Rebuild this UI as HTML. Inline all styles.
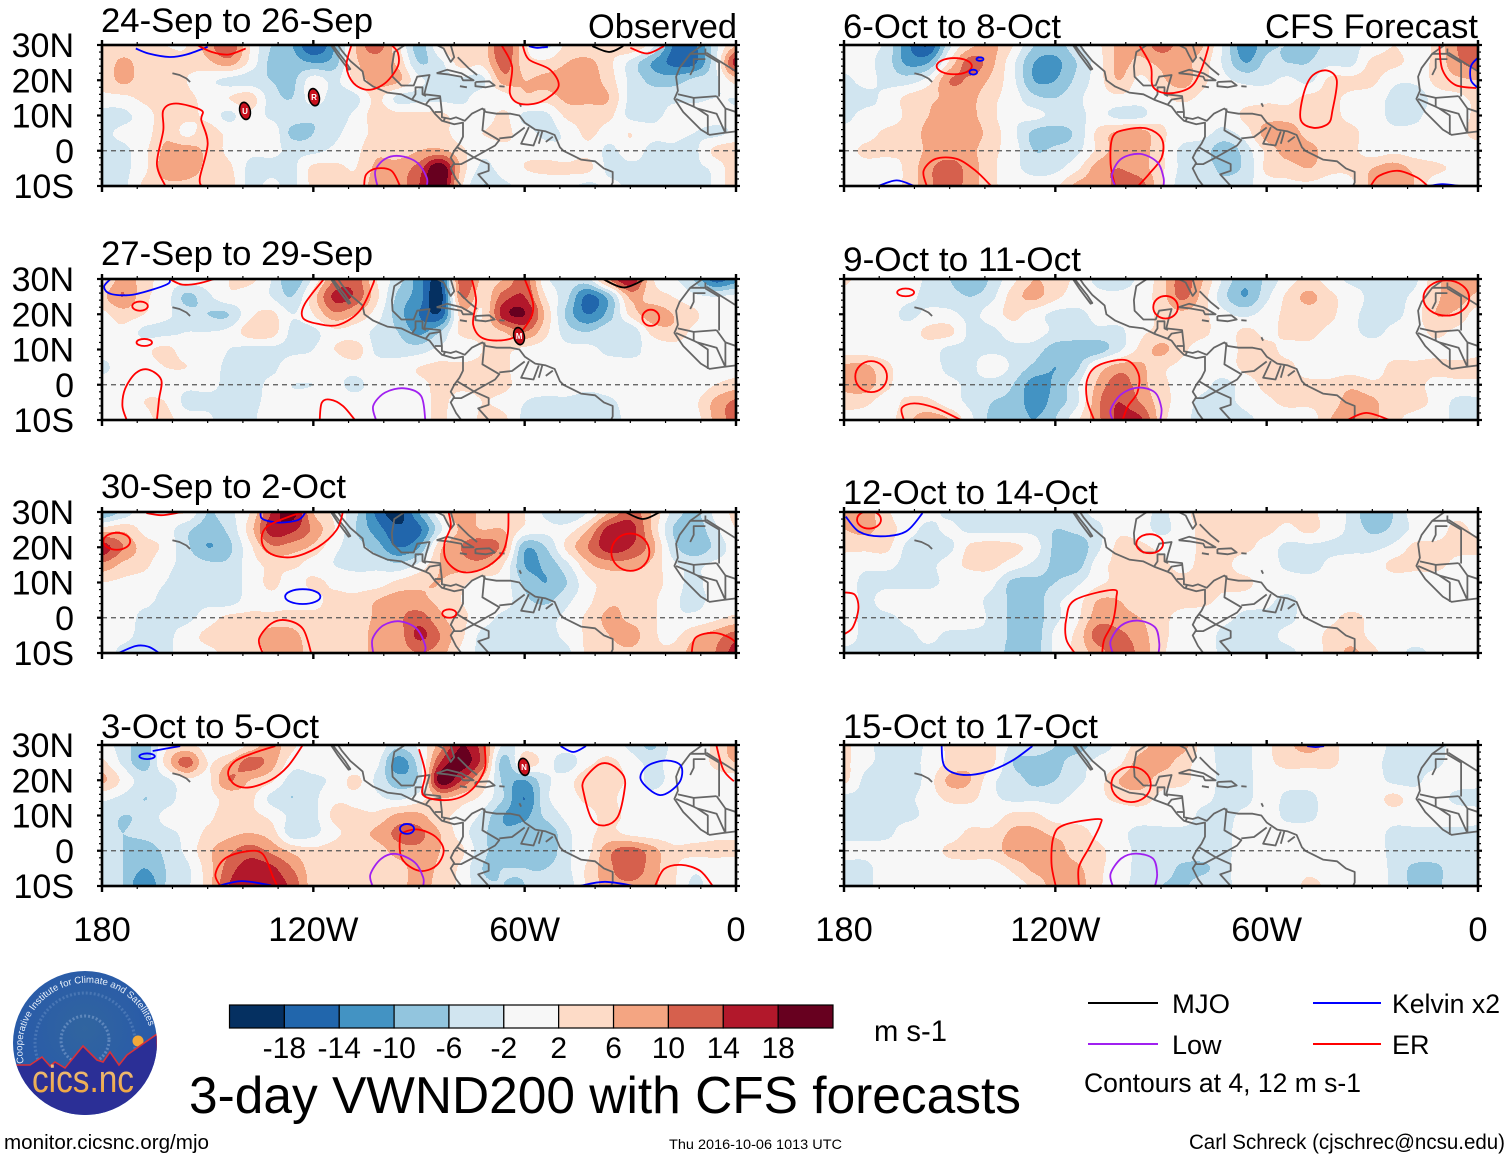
<!DOCTYPE html>
<html lang="en">
<head>
<meta charset="utf-8">
<title>3-day VWND200 with CFS forecasts</title>
<style>
html,body{margin:0;padding:0;background:#fff;}
svg{display:block;}
text{font-family:"Liberation Sans",Arial,sans-serif;fill:#000;}
</style>
</head>
<body>
<svg id="chart" xmlns="http://www.w3.org/2000/svg" width="1510" height="1159" viewBox="0 0 1510 1159">
  <g id="panels"></g>

  <text x="101" y="32" font-size="34" textLength="272" lengthAdjust="spacingAndGlyphs">24-Sep to 26-Sep</text>
  <text x="101" y="265" font-size="34" textLength="272" lengthAdjust="spacingAndGlyphs">27-Sep to 29-Sep</text>
  <text x="101" y="498" font-size="34" textLength="245" lengthAdjust="spacingAndGlyphs">30-Sep to 2-Oct</text>
  <text x="101" y="738" font-size="34" textLength="218" lengthAdjust="spacingAndGlyphs">3-Oct to 5-Oct</text>
  <text x="843" y="38" font-size="34" textLength="218" lengthAdjust="spacingAndGlyphs">6-Oct to 8-Oct</text>
  <text x="843" y="271" font-size="34" textLength="238" lengthAdjust="spacingAndGlyphs">9-Oct to 11-Oct</text>
  <text x="843" y="504" font-size="34" textLength="255" lengthAdjust="spacingAndGlyphs">12-Oct to 14-Oct</text>
  <text x="843" y="738" font-size="34" textLength="255" lengthAdjust="spacingAndGlyphs">15-Oct to 17-Oct</text>
  <text x="588" y="38" font-size="34" textLength="149" lengthAdjust="spacingAndGlyphs">Observed</text>
  <text x="1265" y="38" font-size="34" textLength="213" lengthAdjust="spacingAndGlyphs">CFS Forecast</text>

  <g id="colorbar"></g>
  <text x="874" y="1041" font-size="30" textLength="73" lengthAdjust="spacingAndGlyphs">m s-1</text>

  <text x="189" y="1113" font-size="52" textLength="832" lengthAdjust="spacingAndGlyphs">3-day VWND200 with CFS forecasts</text>

  <g>
    <line x1="1088" x2="1158" y1="1003" y2="1003" stroke="#000" stroke-width="2"/>
    <text x="1172" y="1013" font-size="27" textLength="58" lengthAdjust="spacingAndGlyphs">MJO</text>
    <line x1="1313" x2="1381" y1="1003" y2="1003" stroke="#0000ff" stroke-width="2"/>
    <text x="1392" y="1013" font-size="27" textLength="108" lengthAdjust="spacingAndGlyphs">Kelvin x2</text>
    <line x1="1088" x2="1158" y1="1044" y2="1044" stroke="#a020f0" stroke-width="2"/>
    <text x="1172" y="1054" font-size="27">Low</text>
    <line x1="1313" x2="1381" y1="1044" y2="1044" stroke="#ff0000" stroke-width="2"/>
    <text x="1392" y="1054" font-size="27">ER</text>
    <text x="1084" y="1092" font-size="27" textLength="277" lengthAdjust="spacingAndGlyphs">Contours at 4, 12 m s-1</text>
  </g>

  <text x="4" y="1149" font-size="20.5" textLength="205" lengthAdjust="spacingAndGlyphs">monitor.cicsnc.org/mjo</text>
  <text x="669" y="1149" font-size="14" textLength="173" lengthAdjust="spacingAndGlyphs">Thu 2016-10-06 1013 UTC</text>
  <text x="1189" y="1149" font-size="21" textLength="316" lengthAdjust="spacingAndGlyphs">Carl Schreck (cjschrec@ncsu.edu)</text>

  <g>
    <defs>
      <radialGradient id="logoSky" cx="0.5" cy="0.4" r="0.6">
        <stop offset="0" stop-color="#31659f"/>
        <stop offset="0.7" stop-color="#2a5ca8"/>
        <stop offset="1" stop-color="#2458a8"/>
      </radialGradient>
      <linearGradient id="logoWord" x1="0" y1="0" x2="0" y2="1">
        <stop offset="0" stop-color="#ecc48c"/>
        <stop offset="1" stop-color="#f0a030"/>
      </linearGradient>
      <clipPath id="logoClip"><circle cx="85" cy="1043" r="72"/></clipPath>
      <path id="logoArc" d="M 24 1063 A 64 64 0 1 1 151 1033"/>
    </defs>
    <circle cx="85" cy="1043" r="72" fill="url(#logoSky)"/>
    <g clip-path="url(#logoClip)">
      <circle cx="85" cy="1043" r="50" fill="none" stroke="#7fa2d4" stroke-width="3" stroke-dasharray="2 2" opacity="0.35"/>
      <circle cx="85" cy="1040" r="24" fill="none" stroke="#9ab6de" stroke-width="3" stroke-dasharray="2 2" opacity="0.45"/>
      <circle cx="138" cy="1041" r="5.5" fill="#f2a93a"/>
      <path d="M10 1065 L30 1065 L42 1057 L50 1066 L55 1062 L65 1068 L83 1046 L97 1060 L103 1062 L110 1052 L119 1065 L127 1055 L157 1034 L160 1120 L10 1120 Z" fill="#2b2f96" stroke="#d8323a" stroke-width="1.6"/>
    </g>
    <text font-size="9.6" style="fill:#e8f0fa"><textPath href="#logoArc">Cooperative Institute for Climate and Satellites</textPath></text>
    <text x="32" y="1092" font-size="38" textLength="102" lengthAdjust="spacingAndGlyphs" style="fill:url(#logoWord)">cics.nc</text>
  </g>
</svg>

<script>
// ---- Axis tick data ----
const lonMajorTicks = [180, 120, 60, 0];
const lonMajorLabels = ['180', '120W', '60W', '0'];
const lonMinorTicks = [170, 160, 150, 140, 130, 110, 100, 90, 80, 70, 50, 40, 30, 20, 10];
const latMajorTicks = [30, 20, 10, 0, -10];
const latMajorLabels = ['30N', '20N', '10N', '0', '10S'];
const latMinorTicks = [28, 26, 24, 22, 18, 16, 14, 12, 8, 6, 4, 2, -2, -4, -6, -8];

// ---- Shading scale ----
const levelTicks = [-18, -14, -10, -6, -2, 2, 6, 10, 14, 18];
const bandColors = ['#053061', '#2166ac', '#4393c3', '#92c5de', '#d1e5f0', '#f7f7f7', '#fddbc7', '#f4a582', '#d6604d', '#b2182b', '#67001f'];

// ---- Grid coordinates of the wind anomaly fields (deg W, deg N) ----
const gridLons = [180,174,168,162,156,150,144,138,132,126,120,114,108,102,96,90,84,78,72,66,60,54,48,42,36,30,24,18,12,6,0];
const gridLats = [30,25,20,15,10,5,0,-5,-10];

// ---- VWND200 anomalies, m/s, one row per latitude ----
const vwnd24Sep = [
[2,3,3,2,2,8,14,2,-6,-10,-18,-10,6,12,3,-8,2,6,4,14,3,-3,3,3,3,6,0,-14,-15,-4,6],
[3,7,4,4,3,5,8,1,-7,-8,-10,-8,5,8,5,-6,-3,4,3,12,4,3,6,7,3,-3,-10,-15,-15,-3,16],
[3,7,4,4,2,-1,-3,-4,-6,-7,0,-3,3,8,7,-1,-3,-3,-3,8,6,7,8,8,4,-3,-7,-8,-5,-3,4],
[1,1,3,4,3,1,2,4,-4,-6,0,-4,-3,3,-3,-3,-3,-3,0,0,5,4,7,7,6,-3,-4,-3,-3,-2,-2],
[-4,-3,0,4,3,1,-3,1,-3,-4,-5,-4,-1,4,3,3,3,0,-1,3,-3,-3,3,4,3,-3,-3,-1,0,0,-1],
[-3,-1,0,5,1,4,1,1,1,-7,-6,-3,0,3,3,4,4,0,2,3,0,-3,-1,3,0,2,-1,-1,-2,-3,-1],
[-3,-3,1,7,8,5,1,-1,-1,-3,-3,-1,1,5,4,6,7,3,-1,1,1,0,-1,1,-3,0,-3,-3,-3,3,5],
[-3,-3,1,8,8,5,3,-3,-3,-3,3,3,2,7,8,12,22,5,-3,0,2,3,3,3,-3,-3,-3,-5,-3,-1,5],
[-3,-3,3,5,5,4,4,-3,-1,-3,3,3,3,8,8,14,22,3,-6,-3,-1,-1,-1,-3,-1,-3,-4,-6,-5,-1,5]
];
const vwnd27Sep = [
[1,8,4,0,0,0,2,3,-2,-9,-1,10,12,2,-4,-12,-18,13,5,6,12,-1,-3,-3,10,18,3,-1,-6,-16,-12],
[5,10,3,0,-7,-3,1,0,-2,-6,4,15,13,3,-7,-12,-20,10,3,12,14,2,-5,-15,-8,7,4,2,-1,-2,-1],
[1,4,2,-1,-4,-6,-6,1,3,-2,2,9,6,0,-8,-14,-17,4,2,16,18,5,-7,-14,-8,3,8,6,3,-1,0],
[0,1,-3,-3,-2,-2,-1,4,4,-3,-3,1,0,-3,-6,-11,-6,3,3,6,10,3,-4,-6,-3,-5,3,5,1,0,-1],
[0,0,1,3,0,0,-2,-3,-3,-3,-2,2,4,-3,-4,-4,-1,-1,2,3,1,0,-1,-1,-3,-3,-1,0,0,0,0],
[-3,0,0,2,2,0,-3,-4,-3,0,0,-1,0,0,0,2,3,3,3,3,-1,-1,-1,-1,0,-1,-1,0,0,-1,0],
[0,0,1,0,-1,-1,-3,-4,-1,-2,-2,-1,-3,0,0,1,3,3,3,3,0,0,0,-1,0,0,0,0,-1,2,4],
[0,0,2,2,-3,-3,-3,-3,-1,-1,0,0,0,0,0,0,3,0,2,1,-2,-3,-3,-4,-3,0,0,0,1,7,11],
[0,0,1,3,0,-1,-5,-3,0,-1,0,1,0,0,0,0,3,-1,3,3,-3,-3,-4,-6,-5,0,-1,0,0,7,12]
];
const vwnd30Sep = [
[-10,-5,1,1,2,-6,-3,2,14,20,6,1,-5,-15,-20,-10,1,10,4,3,2,-3,-6,-2,6,12,6,-3,-7,-1,3],
[4,5,1,0,-5,-8,-5,4,16,15,9,2,-6,-12,-17,-15,-3,7,6,6,1,-1,0,6,16,16,6,-6,-9,-3,2],
[16,10,4,1,-5,-10,-7,1,9,8,5,-1,-4,-8,-14,-10,5,10,13,8,-9,-6,3,10,16,14,8,-4,-9,-5,0],
[9,5,3,-1,-3,-5,-5,0,3,3,0,-2,-3,-3,-5,-1,6,8,8,2,-10,-9,-3,5,8,8,5,-1,-3,-1,0],
[2,1,0,-2,-3,-3,-3,-1,3,0,3,1,0,0,3,5,6,3,0,0,-7,-10,-6,1,3,3,4,0,-3,0,0],
[0,-1,-1,-3,-3,-3,-4,0,1,0,1,3,3,6,8,7,5,2,1,0,-5,-7,-3,1,5,5,3,-1,-3,-1,0],
[1,0,-3,-3,-3,0,3,3,3,4,3,3,3,7,9,12,7,3,0,-3,-3,-3,-1,3,7,5,3,-1,-1,1,3],
[0,-1,-3,-3,0,3,4,4,8,7,4,3,3,8,8,15,10,3,-3,-3,-3,-3,-1,3,6,8,3,1,5,8,12],
[0,-3,-3,-3,0,1,3,4,7,8,4,3,3,8,8,10,8,1,-3,-3,-3,-3,-3,3,4,5,3,3,8,10,16]
];
const vwnd3Oct = [
[0,-4,-8,1,3,0,-2,3,8,3,-1,0,1,1,-5,-1,8,18,12,-3,0,-1,0,0,0,-3,-7,-1,-1,3,8],
[3,-3,-8,3,12,2,6,12,8,0,0,0,-1,-1,-12,-4,14,20,12,-8,4,0,-4,1,3,0,-3,-1,-1,3,6],
[7,1,-4,-3,1,1,10,6,3,-4,-3,-1,3,-3,-8,-5,20,14,5,-7,-10,-3,0,5,4,1,-3,-1,0,0,0],
[-1,-3,-6,-4,0,1,3,3,-3,-6,-3,1,1,-1,-3,0,6,4,1,-6,-14,-3,0,3,3,0,-1,0,0,0,0],
[-4,-6,-5,-1,0,1,4,3,1,-3,-3,3,3,3,7,7,3,1,-3,-10,-11,-5,-1,1,3,1,0,0,0,0,0],
[-5,-6,-5,-3,-1,3,5,6,4,-4,-3,1,4,7,11,11,6,0,-5,-9,-8,-9,-3,1,3,1,0,0,0,1,1],
[-4,-6,-8,-5,-1,5,9,12,9,5,3,4,4,4,8,9,6,3,-5,-7,-7,-9,-3,1,9,12,8,3,3,3,3],
[-3,-6,-10,-6,-3,4,12,16,15,10,4,4,3,3,4,8,5,1,-6,-6,-6,-6,-3,3,9,13,8,3,-1,0,-1],
[-3,-6,-14,-6,-3,4,14,17,16,13,4,3,3,3,4,8,4,1,-5,-6,-6,-5,-4,3,8,9,7,3,-3,0,-1]
];
const vwnd6Oct = [
[2,-1,-3,-13,-18,-3,5,7,2,-6,-8,-3,1,7,7,12,8,6,-3,-13,-7,-6,-7,-5,-3,-1,2,0,3,10,14],
[0,-1,-4,-11,-10,3,12,7,-1,-10,-11,-6,0,7,5,7,7,4,-3,-10,-5,-6,-6,-3,-3,3,3,1,3,9,12],
[-3,-1,-3,-4,0,10,9,5,-1,-10,-10,-5,0,6,1,5,8,3,-1,-3,-3,-1,-3,3,3,3,-1,-1,3,5,6],
[-4,-3,-1,3,5,7,7,3,0,-5,-6,-3,0,1,0,1,3,1,0,0,1,1,3,3,1,0,-3,-5,0,1,3],
[-3,-1,-1,3,6,8,7,3,-1,-1,-3,-3,-1,-3,-3,1,0,0,-1,3,4,4,3,3,1,0,-3,-3,0,0,3],
[-1,0,3,4,7,8,8,4,-1,-7,-8,-5,3,7,8,3,0,-1,-3,0,8,9,4,3,3,0,-1,-1,-1,0,4],
[0,3,3,3,7,8,7,3,0,-6,-5,-3,3,8,8,3,-3,-4,-9,-4,3,8,8,3,3,0,1,0,-1,-1,-1],
[-1,0,0,3,9,12,8,3,-1,-3,-3,1,8,10,8,3,-3,-4,-7,-5,3,4,6,3,3,6,8,5,3,1,-1],
[-1,0,0,3,9,12,8,3,0,-1,1,7,8,11,12,3,-4,-4,-5,-3,0,1,1,0,1,7,8,6,-1,-1,-1]
];
const vwnd9Oct = [
[3,0,0,0,-3,-6,-10,-5,1,6,4,1,-3,-4,-1,4,12,6,-3,-9,-5,0,3,0,-3,-3,-3,-3,5,7,8],
[0,0,1,-1,-3,-4,-6,-3,4,7,3,0,-1,-1,0,4,11,4,-5,-10,-3,3,7,3,0,-3,-3,-1,5,8,5],
[0,0,0,-3,-1,-1,-3,0,3,0,-3,-3,-1,0,0,3,5,3,-1,-3,0,3,4,3,-1,-3,-3,0,6,5,0],
[-1,0,0,0,3,3,-3,-3,0,0,-3,-4,-3,-3,1,3,4,3,0,3,1,3,3,1,-1,-3,-1,0,3,1,0],
[0,0,0,0,0,-3,-3,-3,-3,-4,-8,-8,-8,-3,3,7,3,0,0,3,3,1,1,0,0,0,0,0,1,0,1],
[7,7,3,0,0,-3,-3,1,-3,-7,-10,-7,3,8,7,3,1,0,0,3,3,3,0,0,0,0,3,3,3,3,3],
[7,8,3,0,0,-1,-3,-4,-6,-12,-9,-3,7,12,8,3,1,-1,-3,0,3,3,3,3,5,3,3,3,1,1,1],
[4,3,0,3,3,0,-3,-6,-7,-12,-8,-3,9,14,10,4,0,-3,-3,-1,1,3,3,4,8,7,3,3,1,-3,-3],
[0,0,0,5,8,6,-1,-7,-7,-10,-6,1,9,15,15,4,-1,-3,-5,-3,-1,-1,-1,6,8,7,3,1,0,-3,-3]
];
const vwnd12Oct = [
[7,8,3,-1,-1,-3,-5,-3,-3,-3,-3,-3,-1,-1,0,-3,1,3,3,3,3,3,3,0,-3,-10,-6,0,0,1,0],
[6,7,4,0,-3,-1,-3,-3,-3,-3,-6,-5,-3,1,0,-3,0,3,3,3,3,1,3,0,-3,-7,-5,-1,0,3,1],
[3,3,3,-3,-5,-3,3,4,3,0,-7,-9,-3,3,3,1,0,3,3,3,0,-3,-3,-3,-3,-3,-1,3,3,3,3],
[0,-1,-1,-3,-3,0,3,3,0,-3,-7,-8,0,3,4,3,1,3,3,0,0,-3,-4,-1,0,0,3,3,3,1,0],
[0,-3,-3,-3,-3,-1,-1,-1,-7,-7,-6,-3,1,3,3,3,3,3,3,3,0,0,0,0,0,0,0,0,0,0,-1],
[1,-3,0,0,0,0,-1,-3,-7,-8,-3,0,6,6,3,3,3,3,1,0,-1,-3,0,0,0,0,0,0,0,0,0],
[0,-3,-3,-1,0,1,0,-3,-7,-8,-3,1,8,8,6,3,1,0,-1,-3,-3,-3,0,1,3,1,0,-1,0,0,0],
[0,-3,-3,-3,-1,-3,-3,-3,-7,-8,-1,3,12,11,8,3,1,0,-3,-3,-3,-1,0,3,4,1,0,0,0,0,0],
[-3,-3,-3,-3,-3,-3,-3,-3,-8,-8,-1,3,8,12,9,3,0,0,-3,-3,-3,-3,0,3,7,3,0,-3,-1,0,0]
];
const vwnd15Oct = [
[3,-1,-3,-4,-1,3,5,3,-3,-4,-6,-8,-4,-1,4,8,8,0,-3,-3,1,5,8,4,0,0,-3,-4,-3,-1,-1],
[3,-1,-3,-3,-1,3,5,3,-6,-7,-7,-4,-1,1,8,8,4,0,-3,-3,1,3,3,3,0,-1,-3,-3,-3,0,-1],
[3,-3,-5,-5,0,7,6,-1,-4,-7,-6,-3,0,6,8,4,3,0,-3,-3,0,0,0,0,0,0,-3,-3,0,0,-1],
[-3,-3,-4,-3,0,3,3,-1,-3,-3,-3,-1,1,3,4,1,0,-1,-3,-3,0,-3,-3,0,0,0,3,0,0,-3,-3],
[-3,-3,-3,-3,-1,0,0,0,3,3,0,0,0,0,0,0,0,-3,-3,-1,0,-3,-3,0,0,0,0,0,0,0,-1],
[-3,-3,-3,0,0,0,3,3,7,7,5,4,1,-1,-3,-3,-3,-3,-3,0,0,0,0,0,0,0,-3,-3,-3,-3,-3],
[-1,-1,0,0,0,3,4,4,8,8,8,4,3,0,-3,-3,-3,-3,-3,0,0,0,0,0,0,0,-3,-3,-3,-3,-3],
[-3,-3,0,0,0,0,0,0,3,7,8,7,3,0,-3,-3,-7,-7,-3,0,0,0,1,0,0,0,-3,-7,-7,-3,-3],
[-3,-3,0,0,0,0,0,0,0,3,8,8,3,-1,-3,-6,-7,-3,-3,0,0,0,3,1,0,0,-3,-7,-7,-3,-3]
];

// ---- Wave-filtered contours: flat lists of lonW, lat pairs (c = closed) ----
const lines24Sep = [
{k:'kelvin',p:[170.4,29,166.8,27.6,160.8,26.6,156,27.3,150,29.5]},
{k:'er',p:[153,30,148.8,28,144,27.3,139.2,29]},
{k:'er',p:[162,-10,164.4,-3.8,162.6,5.8,162.6,11.5,159,13.4,151.8,11.5,151.8,8.7,150,2,152.2,-7.6,151.8,-10]},
{k:'er',p:[109.2,30,110.6,24,108.6,19.2,104.4,17.3,99.6,19.2,96,24,96,27.8,97.8,30]},
{k:'er',p:[66.6,30,63.6,24,64.2,16.3,61.2,13.3,55.2,14,50.4,18.2,52.8,23,58.8,25.9,60.6,30]},
{k:'er',p:[30,29.2,25.2,27.6,20.4,29.7]},
{k:'mjo',p:[40.8,29.7,36,28,32,29.7]},
{k:'low',p:[101.8,-10,102.4,-5.7,99.6,-2.3,95.4,-1.5,90.6,-3.3,87.8,-7.6,87.8,-10]},
{k:'er',p:[105.6,-10,105,-6.7,102,-5,97.8,-5.7,95.4,-10]},
{k:'kelvin',p:[58.8,29.7,56.4,29.2,53.4,29.5]}
];
const lines27Sep = [
{k:'kelvin',p:[177.6,30,179.4,27.8,177.6,25.8,171.6,25.5,164.4,27.4,161,28.8,160.8,30]},
{k:'er',p:[160.8,30,157.2,28.4,152.4,28.8,148.2,30]},
{k:'er',p:[173,-10,174.2,-6,173.4,-1.1,170.4,3.3,166.8,4.3,163.2,1.4,163.8,-4,164.4,-10]},
{k:'er',p:[117,30,122.4,23,123,19,118.8,17.3,112.8,17,106.8,21,103,28.7,103,30]},
{k:'er',p:[75,30,73.8,24,74.6,17,71.4,13,63.6,13.2,58.8,18,57.6,22.9,60,30]},
{k:'mjo',p:[37.8,30,31.8,27.6,25.8,30]},
{k:'low',p:[102.2,-10,103,-6,99.6,-2.2,94.2,-1,89.4,-3.2,88.2,-10]},
{k:'er',p:[118.2,-10,117.6,-5.1,115.2,-4.2,111.6,-6,108.2,-10]}
];
const lines30Sep = [
{k:'er',p:[167.4,29.7,163.2,29.1,157.8,29.9]},
{k:'kelvin',p:[135,30,134.4,28,129.6,27,124.2,27.8,122.2,30]},
{k:'er',p:[111.6,30,113.4,24.9,118.8,20,126,17.2,132,18.1,134.6,21.5,133.2,25.8,126,29,122.4,30]},
{k:'er',p:[81.6,30,81,25.8,82.8,21,82.2,16.2,78,13,72,13.8,66.6,18,64.8,23.9,64.6,30]},
{k:'mjo',p:[31.4,30,26.4,28,21.6,30]},
{k:'low',p:[103,-10,103.2,-6,100.2,-2.2,95.4,-1,90.6,-3.2,88.2,-8,88.6,-10]},
{k:'er',p:[134.4,-10,135.4,-6,132,-1.7,127.8,-0.7,123,-3.1,120.6,-10]},
{k:'kelvin',p:[175.2,-10,170.4,-8,166.8,-8.2,163.8,-10]},
{k:'er',p:[12.6,-10,11.4,-5.6,6,-4.3,0.6,-6.5,0,-10]}
];
const lines3Oct = [
{k:'kelvin',p:[165.6,28.3,157.8,29.7]},
{k:'er',p:[123,30,127.2,24,132,20.1,138,18,142.2,18.7,144.2,22,142.2,25.4,136.8,27.8,130.8,29.7]},
{k:'er',p:[90,28.8,88.2,22,88.8,15.8,81.6,14.4,75.6,16.8,71.4,23,71.4,29.7]},
{k:'er',c:1,p:[95.4,3.9,94.8,-2.3,90,-5.7,85.2,-4.3,83,0,85.2,3.9,90,6,94.2,5.3]},
{k:'low',p:[103.2,-10,103.8,-6.7,100.8,-2.3,96.6,-0.9,91.2,-3.3,88.8,-7.6,88.8,-10]},
{k:'er',p:[146.4,-10,147.8,-6.7,145.2,-2.3,139.2,-0.2,134.4,-0.9,131.4,-7.6,130.2,-10]},
{k:'kelvin',p:[147,-10,140.4,-8.6,132,-9.8]},
{k:'kelvin',p:[49.8,29.7,46.2,28,42.6,29.7]},
{k:'er',c:1,p:[39,24.4,43.2,20,43.2,16.3,40.8,8.7,37.2,7.2,33.6,9.6,31.8,16.3,31.8,21,35.4,24.4]},
{k:'kelvin',c:1,p:[27,20.1,25.2,24,19.8,25.6,15.6,24,16.2,19.2,21.6,15.8]},
{k:'kelvin',p:[44.4,-10,37.2,-8.8,28.8,-10]},
{k:'er',p:[23,-10,20.4,-5.2,15.6,-4,10.2,-5.7,6.6,-10]},
{k:'er',p:[5.6,30,3.6,23,0.6,19.7]}
];
const lines6Oct = [
{k:'kelvin',p:[170.3,-10,165,-8.4,160.1,-10]},
{k:'er',p:[156.5,-10,157.4,-5.7,154,-2.3,148,-2.3,142.6,-5.7,138.2,-10]},
{k:'er',p:[103,-10,104.3,-3.8,103.7,3.9,100,6,94,6.3,89.8,3.4,89.8,-1.9,93.5,-6.7,96.5,-10]},
{k:'low',p:[103,-10,103.9,-6.7,101.3,-2.3,95.9,-0.9,91,-3.3,89.3,-7.6,89.3,-10]},
{k:'er',p:[96.2,30,92.9,24,92.3,18.2,88,16.3,82,17.8,79,22,76.7,28.8,76.7,30]},
{k:'er',c:1,p:[49.7,15.4,47.3,21,43.1,22.8,40.1,20,41.3,11.5,42.5,7.7,46.7,6.5,50.3,8.7]},
{k:'er',p:[30.5,-10,28.1,-7.1,22.7,-5.7,17.3,-7.6,14.3,-10]},
{k:'kelvin',p:[13.7,-10,10.1,-9.5,5.3,-10]},
{k:'er',p:[11,30,10.1,23,6.5,18.7,0.5,17.8]},
{k:'kelvin',p:[0,26.4,2,24,2,20,0,17.8]}
];
const lines9Oct = [
{k:'er',p:[163,-10,163.6,-6.6,160,-5.3,154,-6.6,146.8,-10]},
{k:'er',p:[109,-10,111,-4.2,110.9,1.6,107.8,5.5,100,7,96.4,3.1,96.7,-2.2,99.4,-6.1,100.9,-10]},
{k:'low',p:[103.7,-10,104.3,-7.1,101.3,-2.7,96.5,-0.8,91.7,-2.2,89.9,-6.6,90.2,-10]},
{k:'er',p:[37.1,-10,31.7,-8,25.1,-10]}
];
const lines12Oct = [
{k:'kelvin',p:[179.5,28.7,175.7,24.4,169.7,23.1,162.5,24.4,157.7,29.7]},
{k:'er',p:[180,7.2,176.9,6.5,175.9,2.6,177.5,-2.7,180,-4.7]},
{k:'er',p:[114.5,-10,116.9,-6.1,116.9,-0.3,114.5,5,103.7,7.9,102.7,5.5,103.7,-1.3,106.1,-6.1,106.7,-10]},
{k:'low',p:[103.7,-10,104.3,-6.6,101.3,-2.2,96.5,-0.8,91.7,-2.7,90.5,-7.1,90.7,-10]}
];
const lines15Oct = [
{k:'kelvin',p:[152.3,30,151.5,24,146.9,21.6,139.7,22.3,132.5,25.4,126.5,29.7]},
{k:'er',p:[119.9,-10,121.1,-3.6,120.5,4,117.5,7.3,107.9,9,107.3,7.3,110.3,1.1,113.3,-4.6,113.3,-10]},
{k:'low',p:[103.7,-10,104.3,-6.5,101.3,-2.2,97.1,-0.8,92.3,-2.2,91.1,-6.5,91.7,-10]},
{k:'kelvin',p:[48.5,29.7,46.1,29.4,43.7,29.7]}
];

// ---- Small closed contours: kind, lonW, lat, lon radius, lat radius ----
const ovals24Sep = [];
const ovals27Sep = [['er',169.2,22.3,2.2,1.3],['er',168,12,2.2,1],['er',24.2,19,2.4,2.3]];
const ovals30Sep = [['er',175.8,21.7,3.8,2.4],['er',30,18.6,5.4,5.3],['kelvin',123,6,5,2.1],['er',81.4,1.2,2,1.2]];
const ovals3Oct = [['kelvin',167.2,26.8,2.2,0.8],['kelvin',93.4,6.2,2,1.4]];
const ovals6Oct = [['er',148.7,24,5,2.3],['kelvin',141.4,26,1,0.5],['kelvin',143.3,22.3,1.1,0.7]];
const ovals9Oct = [['er',162.5,26.2,2.4,1.1],['er',88.7,22,3.5,3.2],['er',9,24.6,6.5,5],['er',172.3,2.3,4.5,4.4]];
const ovals12Oct = [['er',172.9,27.8,3.4,2.5],['er',93.2,21,3.8,2.7]];
const ovals15Oct = [['er',98.5,18.8,5.6,5]];

// ---- Tropical cyclone markers: letter, lonW, lat ----
const storms24Sep = [['U',139.4,11.3],['R',119.8,15.2]];
const storms27Sep = [['M',61.6,13.8]];
const storms3Oct = [['N',60.2,23.8]];

// ---- Coastlines and borders: flat lists of lonW, lat pairs ----
const coastLines = [
[115,30,113,27,110,23,109.5,23.2,111,25.5,113,28,114.5,30],
[113,30,112,28.5,109.5,25.5,106,22.5,105.5,20,103,18.2,99,16.5,95,16,92,14.5,88,13,87,12.5,85.5,10.5,83.5,8.5,80,7.5,77.5,8,77.5,4,78.5,2,80,0,81,-2,80,-3.5,81,-5,79.5,-8,78,-10],
[94,30,97,28,97.7,24,97.5,21,95,18.5,91.5,18.5,90.5,21,87,21.5,88,18,88.5,16,84,15.5,83.5,11,83.5,9.5,81,9,79.5,9.5,77,8.5,75,10.5,72,12,71,11,68,10.5,64,10.5,61.5,10,60,8,57,6,54,5.5,51.5,4.5,50,1,49,0,47,-1,44,-2.5,40,-3,37.5,-5,35,-6,35,-9,35.5,-10],
[85,30,83,29,82,27,81,25.2,80,26.5,81,30],
[85,22,82,23,78,22,74.5,20,77.5,20,78,21,82,21.7,85,22],
[74,19.5,70,19.7,68.5,18.5,71,18,74,18.3,74,19.5],
[78.4,18.3,76.4,18],
[67.2,18.3,65.7,18.2],
[79,26.5,77.5,25,76,23.5,73.5,21.5],
[160,22,158,21.5,156,20.5,155,19.5],
[61.5,13.5,61,12.5],
[71.4,12,72,5.8,67.2,3,68.4,1.5,74.4,-1.9,70.2,-3.8,70.2,-5.7,73.2,-6.7,70.2,-10],
[67.2,3.5,63.6,3.9,60,6.6],
[58.8,6.7,61,2,57.5,1.5,56,5.5],
[56,2,55,5.5],
[54,2.5,52,4],
[79.2,1,74.4,-1.9,78,-3.8,80.4,-3.8],
[92,14.5,91,16,91,18,89,18,89,16,88,15.5],
[88,13.2,87,14.5,84,15],
[85.5,11,83.5,11],
[83,8.5,82.5,9.5],
[9.5,30,13,27.5,16,23.5,17,21,16.5,17,17.5,14.7,15,11,13,9,10,6,7.5,4.5,4,5,0,5.5],
[13,27.5,8.7,27.5,8.7,29],
[8.7,27.3,4.8,25,4.8,15.4],
[13,21.5,12,23.5,12,26,8.7,26],
[8.4,27.8,0,22.5],
[16.5,16,12,15,5.5,15.5],
[17,14.7,12,12.5,11,12,8,10,8,7.5,8,4.5],
[12,15,12,12.5],
[11,12,5.5,10.5,3,5],
[5.5,15.5,3,12,3,5],
[3,12,0,11,0,5.5]
];

// ---- Panel list ----
const panelData = [
{name:'24-sep', col:0, row:0, field:vwnd24Sep, lines:lines24Sep, ovals:ovals24Sep, storms:storms24Sep},
{name:'27-sep', col:0, row:1, field:vwnd27Sep, lines:lines27Sep, ovals:ovals27Sep, storms:storms27Sep},
{name:'30-sep', col:0, row:2, field:vwnd30Sep, lines:lines30Sep, ovals:ovals30Sep, storms:[]},
{name:'3-oct', col:0, row:3, field:vwnd3Oct, lines:lines3Oct, ovals:ovals3Oct, storms:storms3Oct},
{name:'6-oct', col:1, row:0, field:vwnd6Oct, lines:lines6Oct, ovals:ovals6Oct, storms:[]},
{name:'9-oct', col:1, row:1, field:vwnd9Oct, lines:lines9Oct, ovals:ovals9Oct, storms:[]},
{name:'12-oct', col:1, row:2, field:vwnd12Oct, lines:lines12Oct, ovals:ovals12Oct, storms:[]},
{name:'15-oct', col:1, row:3, field:vwnd15Oct, lines:lines15Oct, ovals:ovals15Oct, storms:[]}
];

const NS = 'http://www.w3.org/2000/svg';
const colLeft = [102, 844];
const rowTop = [45, 279, 512, 745];
const panelW = 634;
const panelH = 141;
const lineColors = {er:'#ff0000', kelvin:'#0000ff', low:'#a020f0', mjo:'#000000'};

function mk(tag, parent) {
  const el = document.createElementNS(NS, tag);
  parent.appendChild(el);
  return el;
}
function set(el, attrs) {
  for (const a in attrs) el.setAttribute(a, attrs[a]);
  return el;
}
function bandIndex(v) {
  let i = 0;
  while (i < levelTicks.length && v >= levelTicks[i]) i++;
  return i;
}
function catmull(a, b, c, d, t) {
  return 0.5 * (2*b + (c-a)*t + (2*a-5*b+4*c-d)*t*t + (3*b-a-3*c+d)*t*t*t);
}
function sample(field, fx, fy) {
  const nx = field[0].length, ny = field.length;
  const ix = Math.min(Math.floor(fx), nx-2), iy = Math.min(Math.floor(fy), ny-2);
  const tx = fx-ix, ty = fy-iy;
  const vals = [];
  for (let r = iy-1; r <= iy+2; r++) {
    const row = field[Math.max(0, Math.min(ny-1, r))];
    vals.push(catmull(
      row[Math.max(0, ix-1)], row[ix], row[ix+1], row[Math.min(nx-1, ix+2)], tx));
  }
  return catmull(vals[0], vals[1], vals[2], vals[3], ty);
}
function smoothPath(pts, closed) {
  const n = pts.length;
  const get = i => closed ? pts[(i+n)%n] : pts[Math.max(0, Math.min(n-1, i))];
  let d = 'M' + pts[0][0].toFixed(1) + ' ' + pts[0][1].toFixed(1);
  const segs = closed ? n : n-1;
  for (let i = 0; i < segs; i++) {
    const p0 = get(i-1), p1 = get(i), p2 = get(i+1), p3 = get(i+2);
    d += 'C' + (p1[0]+(p2[0]-p0[0])/6).toFixed(1) + ' ' + (p1[1]+(p2[1]-p0[1])/6).toFixed(1) + ' ' +
         (p2[0]-(p3[0]-p1[0])/6).toFixed(1) + ' ' + (p2[1]-(p3[1]-p1[1])/6).toFixed(1) + ' ' +
         p2[0].toFixed(1) + ' ' + p2[1].toFixed(1);
  }
  return d + (closed ? 'Z' : '');
}

const panelsRoot = document.getElementById('panels');
const defsRoot = mk('defs', panelsRoot);

panelData.forEach(function (panel) {
  const left = colLeft[panel.col], top = rowTop[panel.row];
  const xOf = lon => left + (180 - lon) / 180 * panelW;
  const yOf = lat => top + (30 - lat) / 40 * panelH;

  const g = mk('g', panelsRoot);
  
  

  const clip = mk('clipPath', defsRoot);
  clip.setAttribute('id', 'clip-' + panel.name);
  set(mk('rect', clip), {x:left, y:top, width:panelW, height:panelH});

  // Shaded field, one path per colour band
  const segs = bandColors.map(() => []);
  const lonStep = gridLons[0] - gridLons[1];
  const latStep = gridLats[0] - gridLats[1];
  for (let py = 0; py < panelH; py++) {
    const lat = 30 - (py + 0.5) / panelH * 40;
    const fy = (gridLats[0] - lat) / latStep;
    let runStart = 0, runBand = -1;
    for (let px = 0; px <= panelW; px++) {
      let b = -2;
      if (px < panelW) {
        const lon = 180 - (px + 0.5) / panelW * 180;
        const fx = (gridLons[0] - lon) / lonStep;
        b = bandIndex(sample(panel.field, fx, fy));
      }
      if (b !== runBand) {
        if (runBand >= 0) {
          segs[runBand].push('M' + (left+runStart) + ' ' + (top+py) + 'h' + (px-runStart) + 'v1h-' + (px-runStart) + 'z');
        }
        runStart = px;
        runBand = b;
      }
    }
  }
  segs.forEach(function (list, i) {
    if (!list.length) return;
    const band = mk('path', g);
    
    
    set(band, {d:list.join(''), fill:bandColors[i], 'shape-rendering':'crispEdges'});
  });

  const inner = mk('g', g);
  
  
  inner.setAttribute('clip-path', 'url(#clip-' + panel.name + ')');

  // Coastlines
  coastLines.forEach(function (flat) {
    const pts = [];
    for (let i = 0; i < flat.length; i += 2) pts.push(xOf(flat[i]).toFixed(1) + ',' + yOf(flat[i+1]).toFixed(1));
    const coast = mk('polyline', inner);
    
    
    set(coast, {points:pts.join(' '), fill:'none', stroke:'#666666', 'stroke-width':1.8, 'stroke-linejoin':'round'});
  });

  // Equator
  const eq = mk('line', inner);
  
  
  set(eq, {x1:left, x2:left+panelW, y1:yOf(0), y2:yOf(0), stroke:'#555555', 'stroke-width':1.3, 'stroke-dasharray':'5 4'});

  // Contours
  panel.lines.forEach(function (line) {
    const pts = [];
    for (let i = 0; i < line.p.length; i += 2) pts.push([xOf(line.p[i]), yOf(line.p[i+1])]);
    const path = mk('path', inner);
    
    
    set(path, {d:smoothPath(pts, !!line.c), fill:'none', stroke:lineColors[line.k], 'stroke-width':1.8});
  });
  panel.ovals.forEach(function (o) {
    const e = mk('ellipse', inner);
    
    
    set(e, {cx:xOf(o[1]), cy:yOf(o[2]), rx:o[3]/180*panelW, ry:o[4]/40*panelH, fill:'none', stroke:lineColors[o[0]], 'stroke-width':1.8});
  });

  // Storm markers
  panel.storms.forEach(function (s) {
    const sg = mk('g', inner);
    
    
    const cx = xOf(s[1]), cy = yOf(s[2]);
    const outer = mk('ellipse', sg);
    
    
    set(outer, {cx:cx, cy:cy, rx:6, ry:9.5, fill:'#000', transform:'rotate(-12 ' + cx + ' ' + cy + ')'});
    const innerDot = mk('ellipse', sg);
    
    
    set(innerDot, {cx:cx, cy:cy, rx:4.6, ry:7.8, fill:'#c8101c', transform:'rotate(-12 ' + cx + ' ' + cy + ')'});
    const letter = mk('text', sg);
    
    
    set(letter, {x:cx, y:cy+3, 'text-anchor':'middle', 'font-size':8, 'font-weight':'bold', style:'fill:#fff'});
    letter.textContent = s[0];
  });

  // Frame and ticks
  const tg = mk('g', g);
  
  
  function tick(x1, y1, x2, y2, w) {
    const t = mk('line', tg);
    
    
    set(t, {x1:x1, y1:y1, x2:x2, y2:y2, stroke:'#000', 'stroke-width':w});
  }
  lonMajorTicks.forEach(function (lon) {
    tick(xOf(lon), top-5, xOf(lon), top, 2.4);
    tick(xOf(lon), top+panelH, xOf(lon), top+panelH+6, 2.4);
  });
  lonMinorTicks.forEach(function (lon) {
    tick(xOf(lon), top-3, xOf(lon), top, 1.2);
    tick(xOf(lon), top+panelH, xOf(lon), top+panelH+3, 1.2);
  });
  latMajorTicks.forEach(function (lat) {
    tick(left-5, yOf(lat), left, yOf(lat), 2.2);
    tick(left+panelW, yOf(lat), left+panelW+4, yOf(lat), 2.2);
  });
  latMinorTicks.forEach(function (lat) {
    tick(left-3, yOf(lat), left, yOf(lat), 1.2);
    tick(left+panelW, yOf(lat), left+panelW+3, yOf(lat), 1.2);
  });
  const frame = mk('rect', tg);
  
  
  set(frame, {x:left, y:top, width:panelW, height:panelH, fill:'none', stroke:'#000', 'stroke-width':2.6});

  // Latitude labels on the left column only
  if (panel.col === 0) {
    latMajorTicks.forEach(function (lat, i) {
      const lab = mk('text', g);
      
      
      set(lab, {x:74, y:yOf(lat)+12, 'text-anchor':'end', 'font-size':34});
      lab.textContent = latMajorLabels[i];
    });
  }
  // Longitude labels on the bottom row only
  if (panel.row === 3) {
    lonMajorTicks.forEach(function (lon, i) {
      const lab = mk('text', g);
      
      
      set(lab, {x:xOf(lon), y:941, 'text-anchor':'middle', 'font-size':34.5});
      lab.textContent = lonMajorLabels[i];
    });
  }
});

// Colour bar
const barRoot = document.getElementById('colorbar');
const barLeft = 229.5, barRight = 833, barTop = 1005, barHeight = 23;
const barStep = (barRight - barLeft) / bandColors.length;
bandColors.forEach(function (c, i) {
  const box = mk('rect', barRoot);
  
  
  set(box, {x:barLeft + i*barStep, y:barTop, width:barStep, height:barHeight, fill:c, stroke:'#000', 'stroke-width':1.2});
});
levelTicks.forEach(function (v, i) {
  const lab = mk('text', barRoot);
  
  
  set(lab, {x:barLeft + (i+1)*barStep, y:1058, 'text-anchor':'middle', 'font-size':30});
  lab.textContent = String(v);
});
</script>
</body>
</html>
